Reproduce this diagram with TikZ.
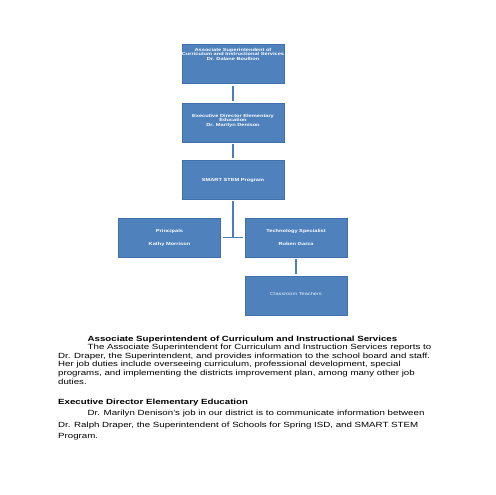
\documentclass[tikz,border=0pt]{standalone}
\usepackage{fontspec}
\setmainfont{Liberation Sans}
\usetikzlibrary{calc}
\definecolor{boxfill}{RGB}{79,129,189}
\definecolor{boxline}{RGB}{65,112,170}
\definecolor{conn}{RGB}{74,126,187}
\newcommand{\hstretch}[1]{\scalebox{1.294}[1]{#1}}
\tikzset{
  orgbox/.style={rectangle, fill=boxfill, draw=boxline, line width=0.4pt, minimum width=102pt, minimum height=39pt, inner sep=0pt},
  boxtxt/.style={anchor=base, inner sep=0pt, text=white, font=\fontsize{4.375}{5}\selectfont\bfseries},
  boxtxtlight/.style={anchor=base, inner sep=0pt, text=white!88!boxfill, font=\fontsize{4.375}{5}\selectfont},
  bodytxt/.style={anchor=base west, inner sep=0pt, font=\fontsize{7.5}{8.6}\selectfont},
  headtxt/.style={anchor=base west, inner sep=0pt, font=\fontsize{7.5}{8.6}\selectfont\bfseries},
  link/.style={draw=conn, line width=1.6pt, shorten <=2pt, shorten >=2pt}
}
\begin{document}
\begin{tikzpicture}[x=1pt,y=-1pt]
\useasboundingbox[fill=white] (0,0) rectangle (495,495);
% boxes
\node[orgbox] (b1) at (233,64) {};
\node[orgbox] (b2) at (233,122.5) {};
\node[orgbox] (b3) at (233,179.5) {};
\node[orgbox] (pr) at (169.5,237.5) {};
\node[orgbox] (ts) at (296,237.5) {};
\node[orgbox] (ct) at (296,295.5) {};
% box texts
\node[boxtxt] (t1a) at (233,51.2) {\hstretch{Associate Superintendent of}};
\node[boxtxt] (t1b) at (233,55.5) {\hstretch{Curriculum and Instructional Services}};
\node[boxtxt] (t1c) at (233,60.2) {\hstretch{Dr. Dalane Boullion}};
\node[boxtxt] (t2a) at (233,117.2) {\hstretch{Executive Director Elementary}};
\node[boxtxt] (t2b) at (233,121.3) {\hstretch{Education}};
\node[boxtxt] (t2c) at (233,126.6) {\hstretch{Dr. Marilyn Denison}};
\node[boxtxt] (t3) at (233,181.2) {\hstretch{SMART STEM Program}};
\node[boxtxt] (tpa) at (169.5,232) {\hstretch{Principals}};
\node[boxtxt] (tpb) at (169.5,245.6) {\hstretch{Kathy Morrison}};
\node[boxtxt] (tta) at (296,232) {\hstretch{Technology Specialist}};
\node[boxtxt] (ttb) at (296,245.6) {\hstretch{Ruben Garza}};
\node[boxtxtlight] (tct) at (296,295.8) {\hstretch{Classroom Teachers}};
% connectors
\coordinate (jn) at (233,237.5);
\draw[link] (b1.south) -- (b2.north);
\draw[link] (b2.south) -- (b3.north);
\draw[link, shorten >=0pt] (b3.south) -- (jn);
\draw[link] (pr.east) -- (ts.west);
\draw[link] (ts.south) -- (ct.north);
% body text
\node[headtxt] (h1) at (87.5,341) {\hstretch{Associate Superintendent of Curriculum and Instructional Services}};
\node[bodytxt] (p1) at (87.5,349.6) {\hstretch{The Associate Superintendent for Curriculum and Instruction Services reports to}};
\node[bodytxt] (p2) at (58,358.2) {\hstretch{Dr. Draper, the Superintendent, and provides information to the school board and staff.}};
\node[bodytxt] (p3) at (58,366.8) {\hstretch{Her job duties include overseeing curriculum, professional development, special}};
\node[bodytxt] (p4) at (58,375.4) {\hstretch{programs, and implementing the districts improvement plan, among many other job}};
\node[bodytxt] (p5) at (58,384) {\hstretch{duties.}};
\node[headtxt] (h2) at (58,404.5) {\hstretch{Executive Director Elementary Education}};
\node[bodytxt] (q1) at (87.5,415.8) {\hstretch{Dr. Marilyn Denison’s job in our district is to communicate information between}};
\node[bodytxt] (q2) at (58,427.1) {\hstretch{Dr. Ralph Draper, the Superintendent of Schools for Spring ISD, and SMART STEM}};
\node[bodytxt] (q3) at (58,438.4) {\hstretch{Program.}};
\end{tikzpicture}
\end{document}
